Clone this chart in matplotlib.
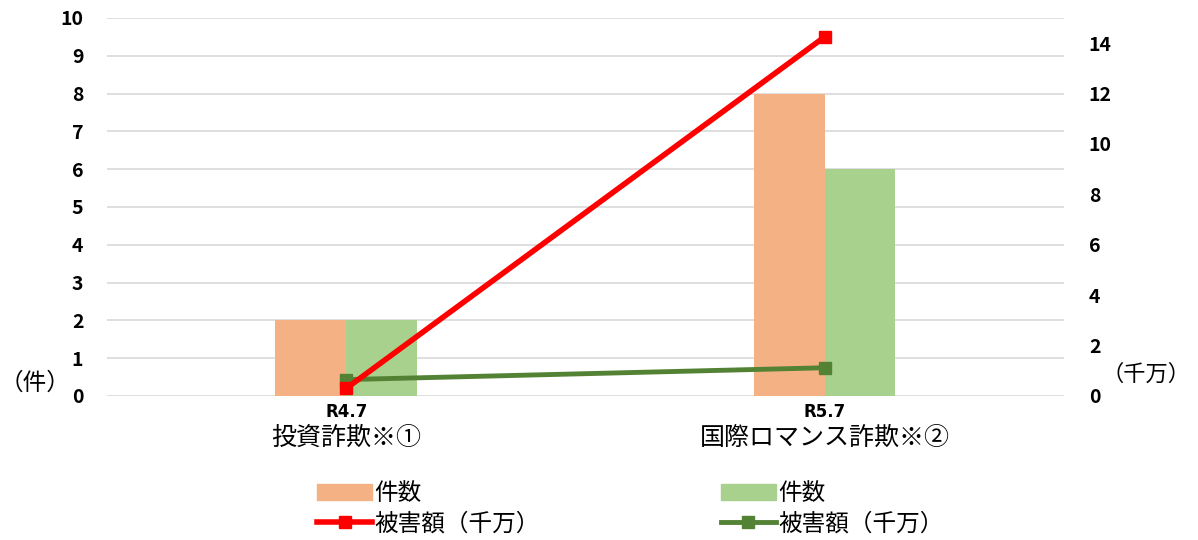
import matplotlib.pyplot as plt
from matplotlib.patches import Patch
from matplotlib.lines import Line2D

plt.rcParams['font.family'] = ['Noto Sans CJK JP', 'DejaVu Sans']

periods = ['R4.7', 'R5.7']
categories = ['投資詐欺※①', '国際ロマンス詐欺※②']
count_invest = [2, 8]
count_romance = [2, 6]
damage_invest = [0.3, 14.25]
damage_romance = [0.65, 1.12]

c_orange = '#F4B183'
c_lgreen = '#A9D18E'
c_red = '#FF0000'
c_dgreen = '#548235'

fig = plt.figure(figsize=(11.98, 5.4), dpi=100)
ax = fig.add_axes([0.0893, 0.2667, 0.7987, 0.7])
x = list(range(len(periods)))
w = 0.148
ax.bar([i - w / 2 for i in x], count_invest, width=w, color=c_orange, zorder=2)
ax.bar([i + w / 2 for i in x], count_romance, width=w, color=c_lgreen, zorder=2)
ax.set_xlim(-0.5, 1.5)
ax.set_ylim(0, 10)
ax.set_yticks(range(0, 11))
ax.grid(axis='y', color='#D9D9D9', linewidth=1.2, zorder=0)
ax.set_axisbelow(True)
for s in ax.spines.values():
    s.set_visible(False)
ax.tick_params(length=0)
ax.tick_params(axis='y', pad=17)
ax.tick_params(axis='x', pad=5)
for lab in ax.get_yticklabels():
    lab.set_fontweight('bold')
    lab.set_fontsize(14)
ax.set_xticks(x)
ax.set_xticklabels(periods, fontsize=12, fontweight='bold', family='DejaVu Sans')

ax2 = ax.twinx()
ax2.plot(x, damage_romance, color=c_dgreen, lw=3.5, marker='s', ms=9, zorder=3)
ax2.plot(x, damage_invest, color=c_red, lw=4, marker='s', ms=9, zorder=4)
ax2.set_ylim(0, 15)
ax2.set_yticks(range(0, 15, 2))
for s in ax2.spines.values():
    s.set_visible(False)
ax2.tick_params(length=0, pad=18)
for lab in ax2.get_yticklabels():
    lab.set_fontweight('bold')
    lab.set_fontsize(14)

# category names under the tick labels
for i, c in enumerate(categories):
    ax.text(i, -1.12, c, ha='center', va='center', fontsize=18,
            transform=ax.transData, clip_on=False)

fig.text(0.029, 0.29, '（件）', fontsize=17, ha='center', va='center')
fig.text(0.957, 0.307, '（千万）', fontsize=16, ha='center', va='center')

common = dict(loc='upper left', frameon=False, fontsize=17, handlelength=2.3,
              handletextpad=0.12, labelspacing=0.3, borderaxespad=0, borderpad=0)
leg1 = fig.legend(handles=[Patch(color=c_orange, label='件数'),
                           Line2D([], [], color=c_red, lw=4, marker='s', ms=9, label='被害額（千万）')],
                  bbox_to_anchor=(0.265, 0.107), **common)
leg2 = fig.legend(handles=[Patch(color=c_lgreen, label='件数'),
                           Line2D([], [], color=c_dgreen, lw=3.5, marker='s', ms=9, label='被害額（千万）')],
                  bbox_to_anchor=(0.602, 0.107), **common)

fig.savefig('out.png', dpi=100)
